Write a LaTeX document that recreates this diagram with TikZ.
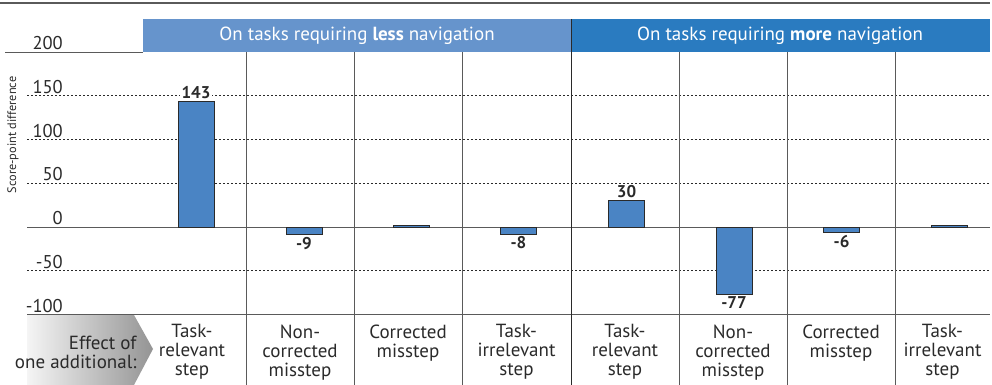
\documentclass[tikz,border=0pt]{standalone}
\usepackage{fontspec}
\setmainfont{PT Sans}
\definecolor{hdrless}{HTML}{6694CC}
\definecolor{hdrmore}{HTML}{2A7BC0}
\definecolor{barblue}{HTML}{4A84C4}
\definecolor{ink}{HTML}{2A2A2A}
\definecolor{rulegray}{HTML}{5A5A5A}
\tikzset{
  grid solid/.style={draw=rulegray, line width=0.9pt},
  grid dotted/.style={draw=ink, line width=0.7pt, dash pattern=on 2pt off 2pt},
  colsep/.style={draw=rulegray, line width=0.9pt},
  bar/.style={fill=barblue, draw=ink, line width=0.9pt},
  tick label/.style={anchor=south east, inner sep=1pt, text=ink, font=\fontsize{18.5}{18.5}\selectfont},
  value label/.style={fill=white, inner sep=1.5pt, text=ink, font=\fontsize{17}{17}\selectfont\bfseries},
  cat label/.style={align=center, text=ink, font=\fontsize{19}{19}\selectfont, anchor=north},
  header text/.style={text=white, font=\fontsize{19}{19}\selectfont},
}
\begin{document}
\begin{tikzpicture}[x=1pt, y=-1pt]
\useasboundingbox (0,0) rectangle (992,385);

% top rule
\draw[draw=rulegray, line width=1.3pt] (0,3) -- (990,3);

% header bands
\fill[hdrless] (143,19) rectangle (571,52);
\fill[hdrmore] (571,19) rectangle (990,52);
\node[header text] (hless) at (357,35.5) {On tasks requiring \textbf{less} navigation};
\node[header text] (hmore) at (780,35.5) {On tasks requiring \textbf{more} navigation};

% value axis: y = 227 - 0.875 v
\draw[grid solid] (5,52) -- (143,52);
\foreach \v in {150,100,50,-50}
  \draw[grid dotted] (27,{227-0.875*\v}) -- (990,{227-0.875*\v});
\draw[grid solid] (27,227) -- (990,227);
\draw[grid solid] (27,314.5) -- (990,314.5);

\foreach \v/\n in {200/t200,150/t150,100/t100,50/t50,0/t0,-50/tm50,-100/tm100}
  \node[tick label] (\n) at (64,{227-0.875*\v-1}) {\v};

\node[rotate=90, text=ink, font=\fontsize{12.3}{12.3}\selectfont] (ytitle) at (13,135) {Score-point difference};

% column separators
\draw[draw=ink, line width=1pt] (571,19) -- (571,385);
\foreach \x in {246,354,462,679,787,895}
  \draw[colsep] (\x,52) -- (\x,385);

% bars
\foreach \c/\v/\n in {196/143/b1,304/-9/b2,411.5/1.5/b3,518.5/-8/b4,626.5/30/b5,734/-77/b6,841.5/-6/b7,949.5/1.5/b8}
  \draw[bar] (\c-18,227) rectangle (\c+18,{227-0.875*\v});

% value labels
\node[value label, anchor=south] (v1) at (196,{227-0.875*143-1}) {143};
\node[value label, anchor=north] (v2) at (304,{227+0.875*9+1}) {-9};
\node[value label, anchor=north] (v4) at (518.5,{227+0.875*8+1}) {-8};
\node[value label, anchor=south] (v5) at (626.5,{227-0.875*30-1}) {30};
\node[value label, anchor=north] (v6) at (734,{227+0.875*77+1}) {-77};
\node[value label, anchor=north] (v7) at (841.5,{227+0.875*6+1}) {-6};

% category key
\shade[left color=white!96!black, right color=black!42] (27,315) -- (134,315) -- (153,349) -- (134,385) -- (27,385) -- cycle;
\node[align=right, anchor=east, text=ink, font=\fontsize{19}{19}\selectfont] (key) at (140,352) {Effect of\\one additional:};

% category labels
\foreach \x/\n/\t in {192/c1/{Task-\\relevant\\step},300/c2/{Non-\\corrected\\misstep},408/c3/{Corrected\\misstep},516.5/c4/{Task-\\irrelevant\\step},625/c5/{Task-\\relevant\\step},733/c6/{Non-\\corrected\\misstep},841/c7/{Corrected\\misstep},942.5/c8/{Task-\\irrelevant\\step}}
  \node[cat label] (\n) at (\x,321) {\t};
\end{tikzpicture}
\end{document}
